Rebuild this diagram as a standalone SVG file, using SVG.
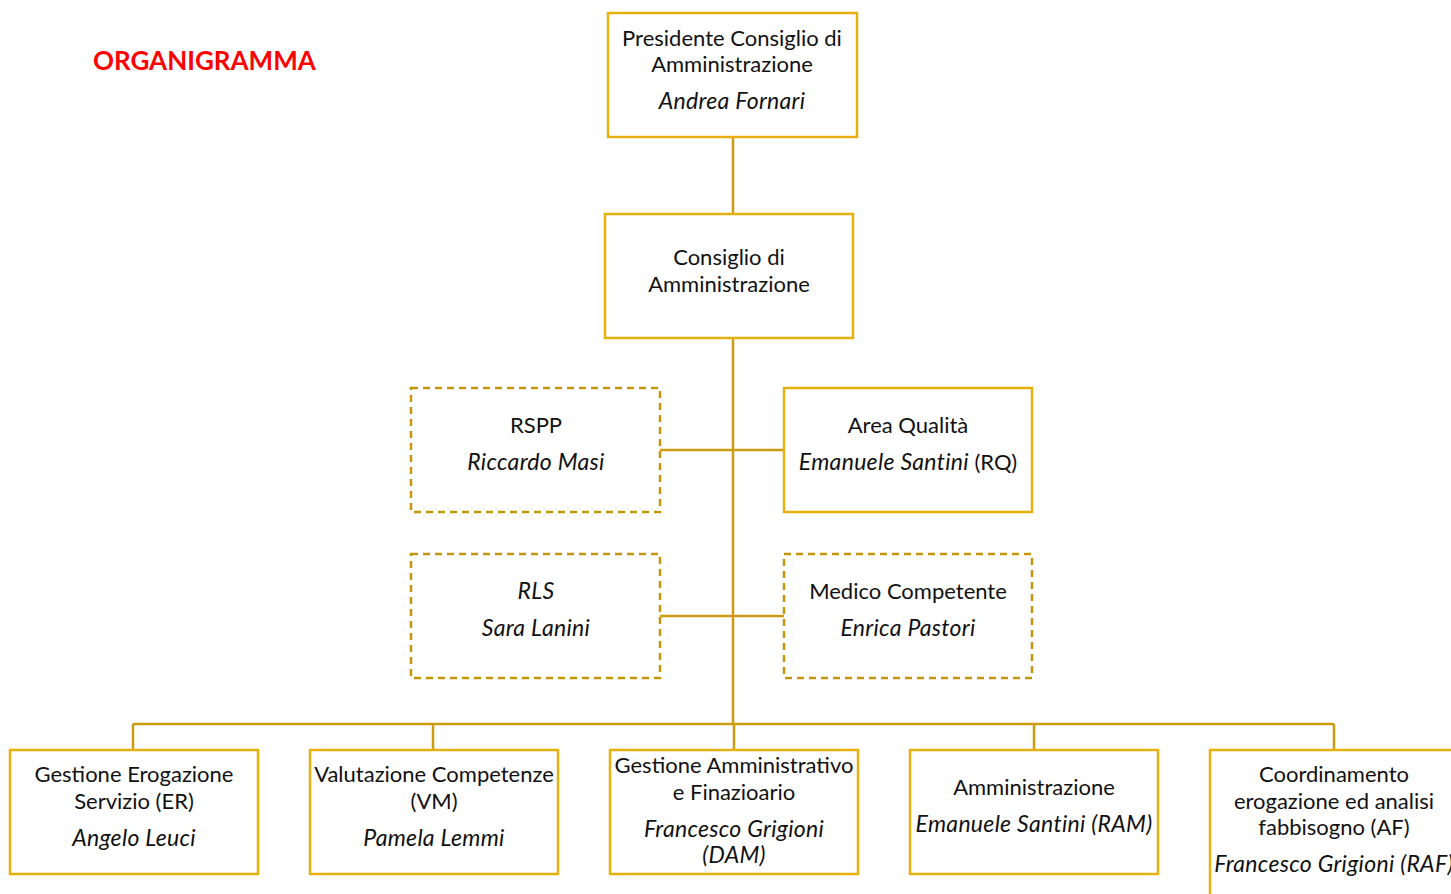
<svg xmlns="http://www.w3.org/2000/svg" width="1451" height="894" viewBox="0 0 1451 894">
<style>
text{font-family:Lato,"Open Sans",sans-serif;font-size:22px;fill:#111;text-anchor:middle}
.i{font-style:italic;font-size:23px;letter-spacing:0.3px}
.box{fill:#fff;stroke:#E8B00C;stroke-width:2.5}
.dash{fill:#fff;stroke:#C4960C;stroke-width:2.5;stroke-dasharray:7,5}
.ln{stroke:#CC9C10;stroke-width:2.5;fill:none}
.title{font-weight:bold;fill:#FF0000;font-size:26px;text-anchor:start}
</style>
<rect width="1451" height="894" fill="#fff"/>
<text class="title" x="93" y="70">ORGANIGRAMMA</text>
<g id="connectors">
<path class="ln" d="M733 137V214M733 338V724M660 450H784M660 616H784M133 724H1334M133 724V750M433 724V750M734 724V750M1034 724V750M1334 724V750"/>
</g>
<g id="presidente"><rect class="box" x="608" y="13" width="249" height="124"/>
<text x="732" y="46">Presidente Consiglio di</text><text x="732" y="72">Amministrazione</text><text class="i" x="732" y="109">Andrea Fornari</text></g>
<g id="consiglio"><rect class="box" x="605" y="214" width="248" height="124"/>
<text x="729" y="265">Consiglio di</text><text x="729" y="292">Amministrazione</text></g>
<g id="rspp"><rect class="dash" x="411" y="388" width="249" height="124"/>
<text x="536" y="433">RSPP</text><text class="i" x="536" y="470">Riccardo Masi</text></g>
<g id="qualita"><rect class="box" x="784" y="388" width="248" height="124"/>
<text x="908" y="433">Area Qualità</text><text x="908" y="470"><tspan class="i">Emanuele Santini</tspan> (RQ)</text></g>
<g id="rls"><rect class="dash" x="411" y="554" width="249" height="124"/>
<text class="i" x="536" y="599">RLS</text><text class="i" x="536" y="636">Sara Lanini</text></g>
<g id="medico"><rect class="dash" x="784" y="554" width="248" height="124"/>
<text x="908" y="599">Medico Competente</text><text class="i" x="908" y="636">Enrica Pastori</text></g>
<g id="er"><rect class="box" x="10" y="750" width="248" height="124"/>
<text x="134" y="782">Gestione Erogazione</text><text x="134" y="809">Servizio (ER)</text><text class="i" x="134" y="846">Angelo Leuci</text></g>
<g id="vm"><rect class="box" x="310" y="750" width="248" height="124"/>
<text x="434" y="782">Valutazione Competenze</text><text x="434" y="809">(VM)</text><text class="i" x="434" y="846">Pamela Lemmi</text></g>
<g id="dam"><rect class="box" x="610" y="750" width="248" height="124"/>
<text x="734" y="773">Gestione Amministrativo</text><text x="734" y="800">e Finazioario</text><text class="i" x="734" y="837">Francesco Grigioni</text><text class="i" x="734" y="863">(DAM)</text></g>
<g id="ram"><rect class="box" x="910" y="750" width="248" height="124"/>
<text x="1034" y="795">Amministrazione</text><text class="i" x="1034" y="832">Emanuele Santini (RAM)</text></g>
<g id="af"><rect class="box" x="1210" y="750" width="248" height="160"/>
<text x="1334" y="782">Coordinamento</text><text x="1334" y="809">erogazione ed analisi</text><text x="1334" y="835">fabbisogno (AF)</text><text class="i" x="1334" y="872">Francesco Grigioni (RAF)</text></g>
</svg>
